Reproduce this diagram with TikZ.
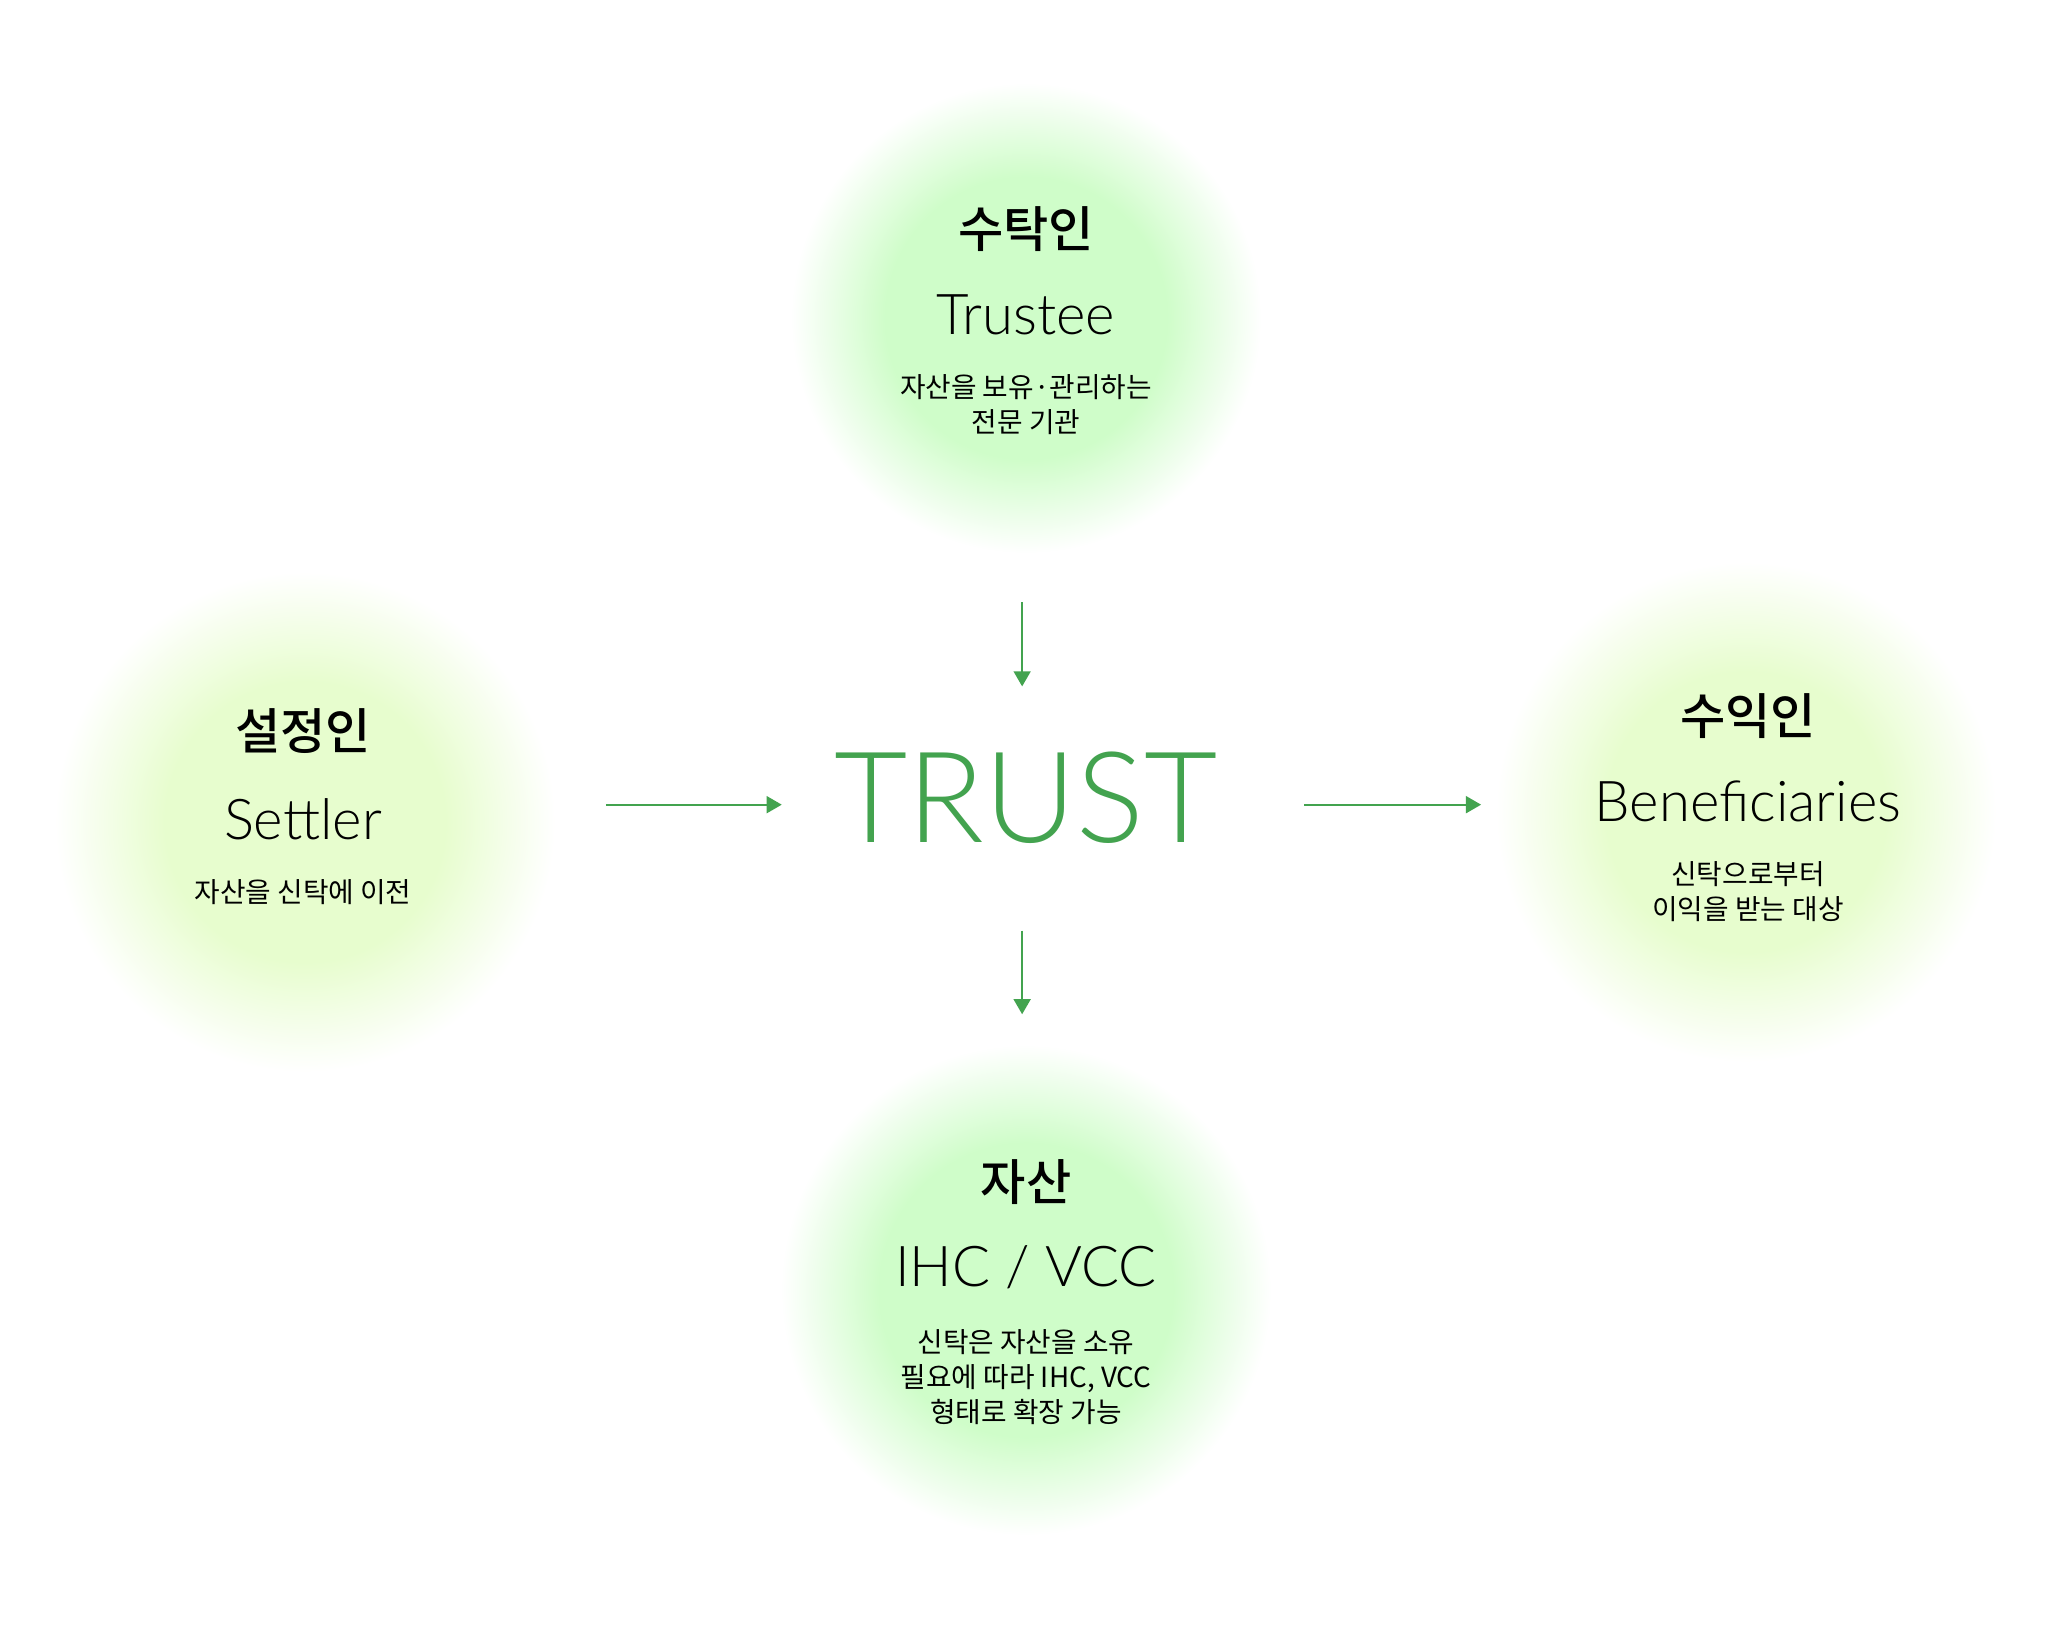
\documentclass[tikz,border=0pt]{standalone}
\usepackage{fontspec}
\usepackage{xcolor}
\usepackage{tikz}
\usetikzlibrary{arrows.meta}
\setmainfont{Noto Sans CJK KR}
\newfontfamily\latinlight{Lato Light}
\newfontfamily\rolefont{Noto Sans CJK KR Medium}
\definecolor{mintglow}{RGB}{207,253,201}
\definecolor{limeglow}{RGB}{231,253,206}
\definecolor{trustgreen}{RGB}{67,163,79}
\pgfdeclareradialshading{mintfade}{\pgfpoint{0bp}{0bp}}{color(0bp)=(mintglow); color(15bp)=(mintglow); color(25bp)=(white); color(50bp)=(white)}
\pgfdeclareradialshading{limefade}{\pgfpoint{0bp}{0bp}}{color(0bp)=(limeglow); color(14bp)=(limeglow); color(25bp)=(white); color(50bp)=(white)}

\begin{document}
\begin{tikzpicture}[x=0.01cm,y=-0.01cm,>={Triangle[width=4.8pt,length=4.3pt]},
  glow/.style={circle,inner sep=0pt,shade,shading=#1},
  role/.style={font=\rolefont\fontsize{14}{16}\selectfont},
  eng/.style={font=\latinlight\fontsize{16}{18}\selectfont},
  note/.style={align=center,font=\fontsize{7.9}{10}\selectfont},
  flow/.style={->,trustgreen,line width=0.6pt}]
  \fill[white] (0,0) rectangle (2048,1637);
  \useasboundingbox (0,0) rectangle (2048,1637);
  % soft circles
  \node[glow=mintfade,minimum size=4.7cm] (trustee) at (1026,318) {};
  \node[glow=limefade,minimum size=5.0cm] (settler) at (305,822) {};
  \node[glow=limefade,minimum size=5.0cm] (benef) at (1746,812) {};
  \node[glow=mintfade,minimum size=4.9cm] (asset) at (1026,1290) {};
  \node[trustgreen,inner sep=0pt,font=\latinlight\fontsize{36}{40}\selectfont] (trust) at (1026,798) {TRUST};
  % labels
  \node[role] (trusteeK) at (1026,229) {수탁인};
  \node[eng] (trusteeE) at (1026,315) {Trustee};
  \node[note] (trusteeN) at (1026,405) {자산을 보유·관리하는\\전문 기관};
  \node[role] (settlerK) at (303,731) {설정인};
  \node[eng] (settlerE) at (303,819) {Settler};
  \node[note] (settlerN) at (303,892) {자산을 신탁에 이전};
  \node[role] (benefK) at (1748,716) {수익인};
  \node[eng] (benefE) at (1748,801) {Beneficiaries};
  \node[note] (benefN) at (1748,892) {신탁으로부터\\이익을 받는 대상};
  \node[role] (assetK) at (1026,1182) {자산};
  \node[eng] (assetE) at (1026,1267) {IHC / VCC};
  \node[note] (assetN) at (1026,1377) {신탁은 자산을 소유\\필요에 따라 IHC, VCC\\형태로 확장 가능};
  % arrows
  \draw[flow,transform canvas={xshift=-1.1pt},shorten <=13.7pt,shorten >=18.5pt] (trustee.south) -- (trust.north);
  \draw[flow,transform canvas={yshift=-1.9pt},shorten <=14.2pt,shorten >=14.8pt] (trust.west -| settler.east) -- (trust.west);
  \draw[flow,transform canvas={yshift=-1.9pt},shorten <=24.5pt,shorten >=4pt] (trust.east) -- (trust.east -| benef.west);
  \draw[flow,transform canvas={xshift=-1.1pt},shorten <=24.5pt,shorten >=8.5pt] (trust.south) -- (asset.north);
\end{tikzpicture}
\end{document}
